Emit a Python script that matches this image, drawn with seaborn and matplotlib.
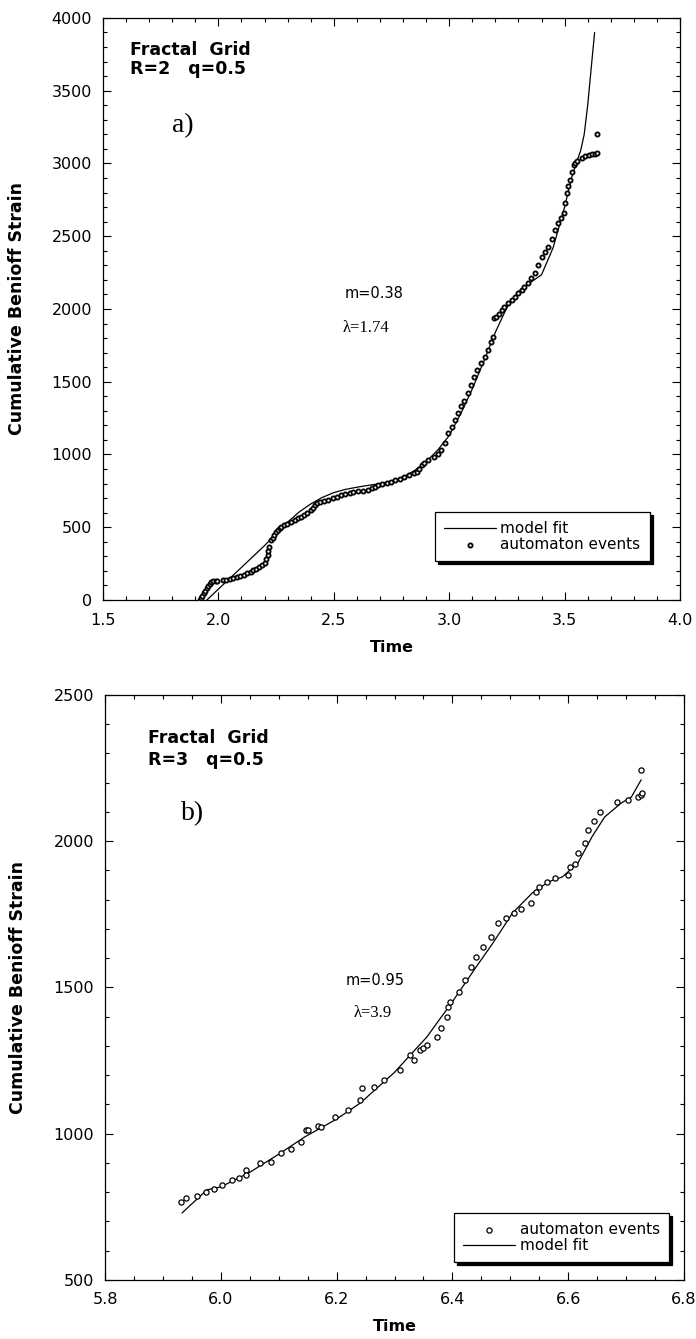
import matplotlib
matplotlib.use("Agg")
import matplotlib.pyplot as plt
from matplotlib.ticker import MultipleLocator
import seaborn as sns
import pandas as pd

# ---------------- data: panel a (R=2, q=0.5) ----------------
a_fit_t = [1.95, 2.0, 2.1, 2.2, 2.25, 2.3, 2.35, 2.4, 2.45, 2.5, 2.55, 2.6, 2.65, 2.7,
           2.75, 2.8, 2.85, 2.9, 2.95, 3.0, 3.05, 3.1, 3.15, 3.2, 3.25, 3.3, 3.35, 3.4,
           3.45, 3.5, 3.53, 3.55, 3.57, 3.585, 3.6, 3.615, 3.63]
a_fit_s = [0, 75, 224, 374, 455, 535, 605, 660, 705, 738, 760, 775, 788, 800,
           818, 845, 890, 950, 1030, 1130, 1280, 1450, 1640, 1840, 2010, 2120, 2180, 2235,
           2420, 2700, 2900, 3000, 3090, 3200, 3400, 3650, 3900]

a_ev_t = [1.920, 1.925, 1.930, 1.937, 1.943, 1.950, 1.957, 1.963, 1.970, 1.978, 1.988, 1.996,
          2.020, 2.035, 2.050, 2.065, 2.080, 2.095, 2.109, 2.125, 2.140, 2.152, 2.165, 2.178,
          2.191, 2.200, 2.208, 2.213, 2.216, 2.218,
          2.230, 2.235, 2.242, 2.250, 2.257, 2.265, 2.270, 2.283, 2.298, 2.313, 2.330, 2.345,
          2.357, 2.372, 2.385, 2.400, 2.412, 2.420, 2.426,
          2.440, 2.458, 2.474, 2.495, 2.512, 2.530, 2.550, 2.570, 2.585, 2.604, 2.625, 2.648,
          2.665, 2.680, 2.691, 2.710, 2.730, 2.748, 2.765, 2.785, 2.804, 2.825, 2.848, 2.860,
          2.870, 2.882, 2.891, 2.910, 2.935, 2.950, 2.965, 2.980,
          2.996, 3.010, 3.025, 3.039, 3.052, 3.065, 3.083, 3.095, 3.109, 3.122, 3.139, 3.155,
          3.170, 3.180, 3.188,
          3.193, 3.204, 3.215, 3.228, 3.239, 3.255, 3.270, 3.283, 3.300, 3.315, 3.326, 3.340,
          3.355, 3.370, 3.385, 3.400, 3.415, 3.430, 3.445, 3.457, 3.470, 3.483, 3.496, 3.503,
          3.509, 3.515, 3.522, 3.530, 3.539, 3.545, 3.555, 3.574, 3.590, 3.605, 3.620, 3.630,
          3.640, 3.640]
a_ev_s = [0, 15, 30, 45, 60, 80, 95, 110, 122, 128, 132, 133,
          137, 140, 145, 151, 158, 165, 172, 185, 195, 206, 215, 225,
          240, 255, 280, 309, 335, 364,
          410, 426, 450, 470, 481, 495, 502, 515, 525, 536, 550, 562,
          571, 585, 600, 619, 635, 650, 667,
          672, 680, 687, 700, 710, 722, 730, 738, 742, 749, 752, 756,
          768, 780, 790, 798, 805, 811, 822, 832, 845, 860, 873, 880,
          900, 925, 941, 960, 983, 1005, 1031, 1080,
          1148, 1190, 1240, 1285, 1330, 1370, 1423, 1475, 1533, 1580, 1629, 1670,
          1718, 1770, 1810,
          1935, 1945, 1965, 1990, 2014, 2040, 2062, 2083, 2110, 2130, 2151, 2180,
          2210, 2247, 2300, 2357, 2390, 2426, 2480, 2543, 2590, 2625, 2660, 2730,
          2797, 2845, 2887, 2940, 2990, 3005, 3020, 3038, 3048, 3055, 3062, 3065,
          3072, 3203]

# ---------------- data: panel b (R=3, q=0.5) ----------------
b_fit_t = [5.933, 5.976, 6.0, 6.05, 6.1, 6.145, 6.2, 6.241, 6.299, 6.356, 6.402, 6.441,
           6.47, 6.504, 6.538, 6.566, 6.59, 6.617, 6.641, 6.663, 6.692, 6.709, 6.726]
b_fit_s = [729, 808, 818, 868, 930, 989, 1050, 1105, 1208, 1331, 1457, 1570,
           1652, 1755, 1823, 1861, 1878, 1926, 2015, 2083, 2131, 2151, 2210]

b_ev_t = [5.932, 5.940, 5.959, 5.974, 5.988, 6.002, 6.019, 6.031, 6.043, 6.043, 6.068, 6.087,
          6.104, 6.122, 6.138, 6.147, 6.150, 6.168, 6.173, 6.197, 6.219, 6.241, 6.244, 6.265,
          6.282, 6.309, 6.327, 6.333, 6.344, 6.350, 6.356, 6.373, 6.381, 6.390, 6.393, 6.395,
          6.412, 6.421, 6.432, 6.441, 6.453, 6.467, 6.479, 6.492, 6.506, 6.518, 6.535, 6.544,
          6.549, 6.564, 6.578, 6.600, 6.603, 6.612, 6.617, 6.629, 6.634, 6.644, 6.655, 6.685,
          6.704, 6.720, 6.726, 6.728, 6.726]
b_ev_s = [767, 780, 787, 801, 811, 825, 842, 849, 876, 859, 900, 903,
          934, 948, 972, 1013, 1013, 1027, 1023, 1057, 1081, 1115, 1156, 1160,
          1184, 1218, 1269, 1252, 1286, 1293, 1303, 1331, 1362, 1399, 1433, 1451,
          1485, 1526, 1570, 1604, 1639, 1673, 1721, 1738, 1755, 1768, 1789, 1827,
          1844, 1861, 1874, 1885, 1912, 1922, 1960, 1994, 2039, 2069, 2100, 2134,
          2141, 2151, 2158, 2165, 2244]

df_a_fit = pd.DataFrame({"Time": a_fit_t, "Strain": a_fit_s})
df_a_ev = pd.DataFrame({"Time": a_ev_t, "Strain": a_ev_s})
df_b_fit = pd.DataFrame({"Time": b_fit_t, "Strain": b_fit_s})
df_b_ev = pd.DataFrame({"Time": b_ev_t, "Strain": b_ev_s})

sns.set_style("ticks")
plt.rcParams["font.family"] = ["DejaVu Sans"]
plt.rcParams["text.color"] = "black"
plt.rcParams["axes.labelcolor"] = "black"
plt.rcParams["xtick.color"] = "black"
plt.rcParams["ytick.color"] = "black"

fig = plt.figure(figsize=(6.96, 13.39), dpi=100)
ax1 = fig.add_axes([0.1480, 0.5519, 0.8290, 0.4347])
ax2 = fig.add_axes([0.1509, 0.0441, 0.8319, 0.4369])

serif = ["Liberation Serif", "DejaVu Serif"]


def style_axes(ax, xlim, ylim, xmaj, xmin, ymaj, ymin):
    ax.set_xlim(*xlim)
    ax.set_ylim(*ylim)
    ax.xaxis.set_major_locator(MultipleLocator(xmaj))
    ax.xaxis.set_minor_locator(MultipleLocator(xmin))
    ax.yaxis.set_major_locator(MultipleLocator(ymaj))
    ax.yaxis.set_minor_locator(MultipleLocator(ymin))
    ax.tick_params(which="both", direction="in", top=True, right=True,
                   width=0.8, color="black", labelcolor="black")
    ax.tick_params(which="major", length=6, labelsize=11.5)
    ax.tick_params(which="minor", length=3)
    ax.tick_params(axis="x", which="major", pad=9)
    ax.tick_params(axis="y", which="major", pad=8)
    for sp in ax.spines.values():
        sp.set_linewidth(0.9)
        sp.set_color("black")
    ax.set_xlabel("Time", fontsize=11.5, fontweight="bold", color="black")
    ax.set_ylabel("Cumulative Benioff Strain", fontsize=12.5, fontweight="bold",
                  color="black")


# ---- panel a ----
sns.lineplot(data=df_a_fit, x="Time", y="Strain", ax=ax1, color="black", lw=0.9,
             sort=False, estimator=None, label="model fit")
sns.scatterplot(data=df_a_ev, x="Time", y="Strain", ax=ax1, marker="o", s=9,
                facecolor="white", edgecolor="black", linewidth=1.3,
                label="automaton events", zorder=3)
style_axes(ax1, (1.5, 4.0), (0, 4000), 0.5, 0.1, 500, 100)
ax1.xaxis.set_label_coords(0.5, -0.068)
ax1.yaxis.set_label_coords(-0.133, 0.5)

ax1.text(0.047, 0.9364, "Fractal  Grid", transform=ax1.transAxes, fontsize=12.5,
         fontweight="bold")
ax1.text(0.047, 0.9038, "R=2   q=0.5", transform=ax1.transAxes, fontsize=12.5,
         fontweight="bold")
ax1.text(0.1196, 0.804, "a)", transform=ax1.transAxes, fontsize=20, family=serif)
ax1.text(0.419, 0.519, "m=0.38", transform=ax1.transAxes, fontsize=10.5)
ax1.text(0.416, 0.4605, "λ=1.74", transform=ax1.transAxes, fontsize=12, family=serif)

leg1 = ax1.legend(loc="upper left", bbox_to_anchor=(0.575, 0.151), fontsize=11,
                  frameon=True, fancybox=False, edgecolor="black", framealpha=1,
                  shadow={"facecolor": "black", "edgecolor": "black", "alpha": 1},
                  handlelength=3.4, handletextpad=0.3, borderpad=0.6,
                  labelspacing=0.05, borderaxespad=0)
leg1.get_frame().set_linewidth(0.9)

# ---- panel b ----
sns.scatterplot(data=df_b_ev, x="Time", y="Strain", ax=ax2, marker="o", s=14,
                facecolor="white", edgecolor="black", linewidth=0.9,
                label="automaton events", zorder=3)
sns.lineplot(data=df_b_fit, x="Time", y="Strain", ax=ax2, color="black", lw=0.9,
             sort=False, estimator=None, label="model fit")
style_axes(ax2, (5.8, 6.8), (500, 2500), 0.2, 0.05, 500, 100)
ax2.xaxis.set_label_coords(0.5, -0.066)
ax2.yaxis.set_label_coords(-0.135, 0.5)

ax2.text(0.0738, 0.918, "Fractal  Grid", transform=ax2.transAxes, fontsize=12.5,
         fontweight="bold")
ax2.text(0.0738, 0.880, "R=3   q=0.5", transform=ax2.transAxes, fontsize=12.5,
         fontweight="bold")
ax2.text(0.132, 0.786, "b)", transform=ax2.transAxes, fontsize=20, family=serif)
ax2.text(0.415, 0.504, "m=0.95", transform=ax2.transAxes, fontsize=10.5)
ax2.text(0.429, 0.4496, "λ=3.9", transform=ax2.transAxes, fontsize=12, family=serif)

leg2 = ax2.legend(loc="upper left", bbox_to_anchor=(0.603, 0.1145), fontsize=11,
                  frameon=True, fancybox=False, edgecolor="black", framealpha=1,
                  shadow={"facecolor": "black", "edgecolor": "black", "alpha": 1},
                  handlelength=3.4, handletextpad=0.3, borderpad=0.6,
                  labelspacing=0.05, borderaxespad=0)
leg2.get_frame().set_linewidth(0.9)

fig.savefig("out.png", dpi=100)
